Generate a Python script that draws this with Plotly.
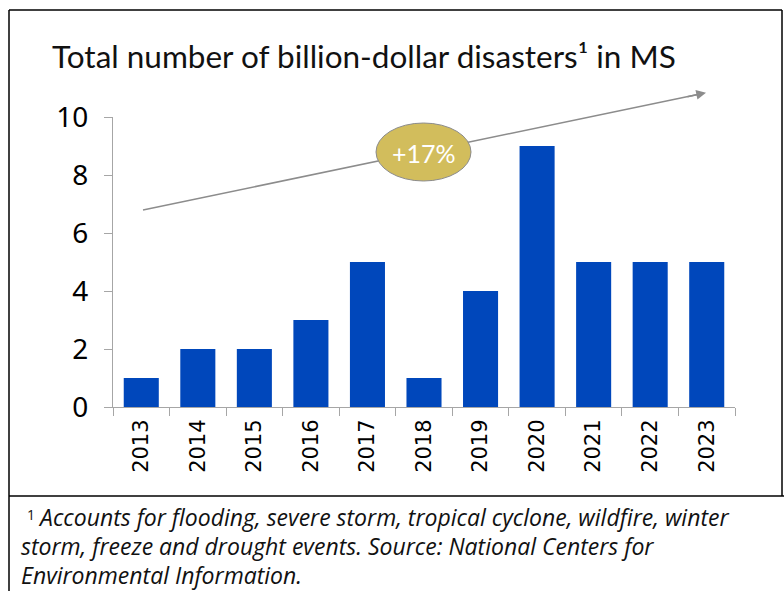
import plotly.graph_objects as go

years = ["2013", "2014", "2015", "2016", "2017", "2018", "2019", "2020", "2021", "2022", "2023"]
disasters = [1, 2, 2, 3, 5, 1, 4, 9, 5, 5, 5]
y_ticks = [0, 2, 4, 6, 8, 10]
title_text = "Total number of billion-dollar disasters¹ in MS"
growth_label = "+17%"
footnote_sup = "1"
footnote_lines = [
    "Accounts for flooding, severe storm, tropical cyclone, wildfire, winter",
    "storm, freeze and drought events. Source: National Centers for",
    "Environmental Information.",
]

W, H = 784, 591
L, R, T, B = 113, 49, 117, 184
PW, PH = W - L - R, H - T - B


def px(x):
    return (x - L) / PW


def py(y):
    return (H - B - y) / PH


fig = go.Figure()
fig.add_trace(go.Bar(
    x=years, y=disasters, width=0.62,
    marker=dict(color="#0047BB", line=dict(width=0)),
    hoverinfo="skip",
))

shapes = []
line_style = dict(color="black", width=1.5)
shapes.append(dict(type="line", xref="paper", yref="paper", x0=px(9), x1=px(782), y0=py(10), y1=py(10), line=line_style))
shapes.append(dict(type="line", xref="paper", yref="paper", x0=px(9), x1=px(9), y0=py(10), y1=py(591), line=line_style))
shapes.append(dict(type="line", xref="paper", yref="paper", x0=px(782), x1=px(782), y0=py(10), y1=py(496), line=line_style))
shapes.append(dict(type="line", xref="paper", yref="paper", x0=px(9), x1=px(784), y0=py(496), y1=py(496), line=line_style))
shapes.append(dict(type="line", xref="paper", yref="paper", x0=px(143), x1=px(700), y0=py(210), y1=py(94),
                   line=dict(color="#8C8C8C", width=1.5)))
shapes.append(dict(type="circle", xref="paper", yref="paper", x0=px(376), x1=px(471), y0=py(123), y1=py(181),
                   fillcolor="#D2BD5C", line=dict(color="#8C8C8C", width=1)))

annotations = []
annotations.append(dict(xref="paper", yref="paper", x=px(50), y=py(56), xanchor="left", yanchor="middle",
                        text=title_text, showarrow=False,
                        font=dict(family="Lato", size=31.5, color="#111111")))
annotations.append(dict(xref="paper", yref="paper", x=px(423.5), y=py(153), xanchor="center", yanchor="middle",
                        text=growth_label, showarrow=False,
                        font=dict(family="Lato", size=25, color="white")))
annotations.append(dict(xref="paper", yref="paper", x=px(706), y=py(92.8), ax=-20, ay=4.2,
                        axref="pixel", ayref="pixel", text="", showarrow=True,
                        arrowhead=2, arrowsize=1.3, arrowwidth=1.5, arrowcolor="#8C8C8C"))
annotations.append(dict(xref="paper", yref="paper", x=px(25), y=py(514), xanchor="left", yanchor="middle",
                        text=footnote_sup, showarrow=False,
                        font=dict(family="Open Sans", size=14, color="#111111")))
foot_y = [517, 546, 575]
foot_x = [36, 19, 19]
for t, yy, xx in zip(footnote_lines, foot_y, foot_x):
    annotations.append(dict(xref="paper", yref="paper", x=px(xx), y=py(yy), xanchor="left", yanchor="middle",
                            text="<i>" + t + "</i>", showarrow=False,
                            font=dict(family="Open Sans", size=23, color="#111111")))

fig.update_layout(
    width=W, height=H,
    margin=dict(l=L, r=R, t=T, b=B, pad=0),
    paper_bgcolor="white", plot_bgcolor="white",
    showlegend=False,
    shapes=shapes,
    annotations=annotations,
    xaxis=dict(
        type="category", range=[-0.5, 10.5],
        showline=True, linecolor="#A6A6A6", linewidth=1,
        ticks="outside", tickson="boundaries", ticklen=8, tickcolor="#A6A6A6", tickwidth=1,
        tickangle=-90, showgrid=False,
        ticklabelstandoff=3,
        tickfont=dict(family="DejaVu Sans", size=21, color="black"),
    ),
    yaxis=dict(
        range=[0, 10], tickvals=y_ticks,
        showline=True, linecolor="#A6A6A6", linewidth=1,
        ticks="outside", ticklen=8, tickcolor="#A6A6A6", tickwidth=1,
        showgrid=False, zeroline=False,
        ticklabelstandoff=10,
        tickfont=dict(family="Noto Sans", size=28, color="black"),
    ),
)

fig.write_html("out.html")
